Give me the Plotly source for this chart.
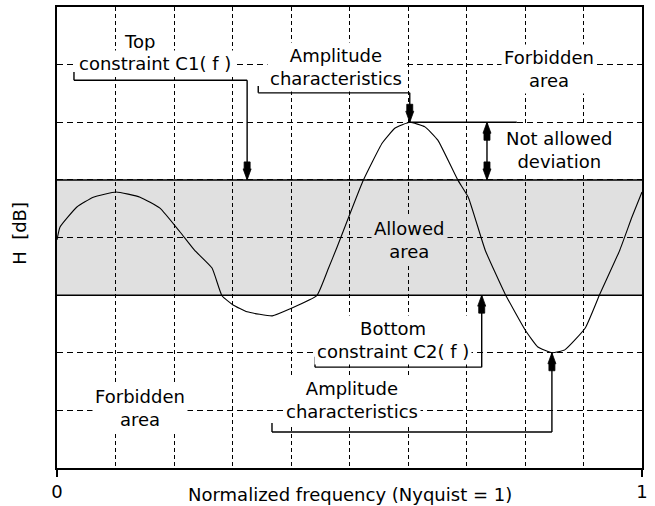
import plotly.graph_objects as go

# ---- data ----
freq = [0.000, 0.005, 0.034, 0.062, 0.101, 0.142, 0.176, 0.210, 0.235, 0.265,
        0.282, 0.301, 0.325, 0.368, 0.398, 0.444, 0.463, 0.479, 0.523, 0.556,
        0.578, 0.603, 0.629, 0.651, 0.685, 0.703, 0.732, 0.766, 0.800, 0.822,
        0.846, 0.868, 0.903, 0.928, 0.962, 0.983, 1.000]
gain = [3.96, 4.18, 4.53, 4.70, 4.79, 4.70, 4.51, 4.10, 3.78, 3.47,
        2.99, 2.83, 2.71, 2.64, 2.76, 2.99, 3.44, 3.84, 4.98, 5.64,
        5.90, 6.00, 5.92, 5.69, 5.00, 4.70, 3.78, 3.02, 2.40, 2.10,
        2.00, 2.05, 2.43, 3.02, 3.78, 4.36, 4.79]
c1_top = 5.0      # top constraint C1(f)
c2_bottom = 3.0   # bottom constraint C2(f)
x_tick_vals = [0, 1]
x_tick_text = ["0", "1"]
x_grid = [0.1, 0.2, 0.3, 0.4, 0.5, 0.6, 0.7, 0.8, 0.9]
y_range = [0, 8]

FONT = "DejaVu Sans"
FS = 18
BAND = "#e0e0e0"

fig = go.Figure()
fig.add_trace(go.Scatter(x=freq, y=gain, mode="lines",
                         line=dict(color="black", width=1.1, shape="spline", smoothing=0.4),
                         hoverinfo="skip", showlegend=False))

shapes = []
# allowed band
shapes.append(dict(type="rect", xref="x", yref="y", x0=0, x1=1, y0=c2_bottom, y1=c1_top,
                   fillcolor=BAND, line=dict(width=0), layer="below"))
for yv in (c2_bottom, c1_top):
    shapes.append(dict(type="line", xref="x", yref="y", x0=0, x1=1, y0=yv, y1=yv,
                       line=dict(color="black", width=1.5), layer="above"))

def seg(x0, y0, x1, y1):
    shapes.append(dict(type="line", xref="x", yref="y", x0=x0, y0=y0, x1=x1, y1=y1,
                       line=dict(color="black", width=1.4), layer="above"))

def arrow(x, y, down=True):
    s = 1 if down else -1
    pts = [(0, 0), (-4, 11), (-3, 11), (-3, 18), (3, 18), (3, 11), (4, 11)]
    path = "M" + " L".join(f"{px},{s*py}" for px, py in pts) + " Z"
    shapes.append(dict(type="path", xref="x", yref="y", xsizemode="pixel", ysizemode="pixel",
                       xanchor=x, yanchor=y, path=path, fillcolor="black",
                       line=dict(color="black", width=0.8), layer="above"))

# Top constraint leader
seg(0.029, 6.87, 0.029, 6.73); seg(0.029, 6.73, 0.325, 6.73); seg(0.325, 6.73, 0.325, c1_top)
arrow(0.325, c1_top, True)
# Top amplitude leader
seg(0.344, 6.63, 0.344, 6.51); seg(0.344, 6.51, 0.603, 6.51); seg(0.603, 6.51, 0.603, 6.0)
arrow(0.603, 6.0, True)
# peak line + not allowed deviation
seg(0.602, 6.0, 0.786, 6.0)
seg(0.735, 6.0, 0.735, c1_top)
arrow(0.735, 6.0, False)
arrow(0.735, c1_top, True)
# Bottom constraint leader
seg(0.441, 1.93, 0.441, 1.75); seg(0.441, 1.75, 0.726, 1.75); seg(0.726, 1.75, 0.726, c2_bottom)
arrow(0.726, c2_bottom, False)
# Bottom amplitude leader
seg(0.3675, 0.78, 0.3675, 0.625); seg(0.3675, 0.625, 0.846, 0.625); seg(0.846, 0.625, 0.846, 2.0)
arrow(0.846, 2.0, False)

def px2x(px):
    return (px - 57) / 585.0

def py2y(py):
    return (468 - py) / 57.625

anns = []
def label(text, cx, cy, bg="white"):
    anns.append(dict(text=text, x=px2x(cx), y=py2y(cy), xref="x", yref="y",
                     showarrow=False, xanchor="center", yanchor="middle",
                     font=dict(family=FONT, size=FS, color="black"),
                     bgcolor=bg, borderpad=2, align="center"))

label("Top", 139, 41)
label("constraint C1( f )", 155, 63.5)
label("Amplitude<br>characteristics", 336, 67)
label("Forbidden<br>area", 549, 69)
label("Not allowed<br>deviation", 559, 150)
label("Allowed<br>area", 409, 240, bg=BAND)
label("Bottom<br>constraint C2( f )", 393, 340)
label("Amplitude<br>characteristics", 352, 399.5)
label("Forbidden<br>area", 140, 407.5)

anns.append(dict(text="Normalized frequency (Nyquist = 1)", xref="paper", yref="paper",
                 x=0.5, y=0, yshift=-26, showarrow=False, xanchor="center", yanchor="middle",
                 font=dict(family=FONT, size=FS, color="black")))
anns.append(dict(text="H  [dB]", xref="paper", yref="paper", x=0, y=0.508, xshift=-37,
                 textangle=-90, showarrow=False, xanchor="center", yanchor="middle",
                 font=dict(family=FONT, size=FS, color="black")))

fig.update_layout(
    width=655, height=506,
    margin=dict(l=57, r=13, t=7, b=38),
    paper_bgcolor="white", plot_bgcolor="white",
    shapes=shapes, annotations=anns,
    font=dict(family=FONT, size=FS, color="black"),
    xaxis=dict(range=[0, 1], showline=True, mirror=True, linecolor="black", linewidth=1.5,
               automargin=False,
               tickmode="array", tickvals=x_tick_vals, ticktext=x_tick_text,
               ticks="outside", ticklen=7, tickwidth=1.5, tickcolor="black",
               showgrid=False, zeroline=False,
               minor=dict(tickmode="array", tickvals=x_grid, showgrid=True, gridcolor="black",
                          gridwidth=1.2, griddash="4px,3px", ticks="")),
    yaxis=dict(range=y_range, showline=True, mirror=True, linecolor="black", linewidth=1.5,
               automargin=False,
               showticklabels=False, ticks="", dtick=1, tick0=0,
               showgrid=True, gridcolor="black", gridwidth=1.2, griddash="6px,4px",
               zeroline=False),
)

fig.write_html("out.html", config={"displayModeBar": False},
               post_script="document.body.style.margin='0';document.body.style.overflow='hidden';")
